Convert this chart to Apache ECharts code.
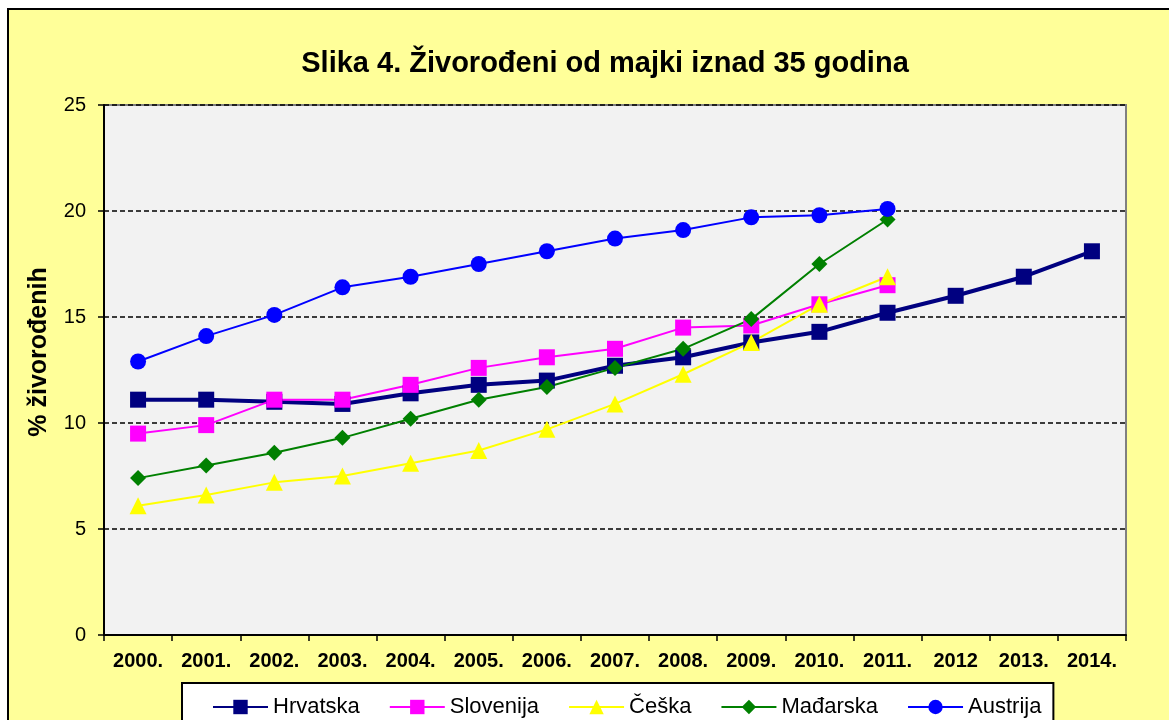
<!DOCTYPE html>
<html>
<head>
<meta charset="utf-8">
<script src="https://cdn.jsdelivr.net/npm/echarts@6/dist/echarts.min.js"></script>
<style>html,body{margin:0;padding:0;background:#fff;}#c{width:1169px;height:720px;}</style>
</head>
<body>
<div id="c"></div>
<script>
const years = ['2000.','2001.','2002.','2003.','2004.','2005.','2006.','2007.','2008.','2009.','2010.','2011.','2012','2013.','2014.'];
const hrvatska  = [11.1, 11.1, 11.0, 10.9, 11.4, 11.8, 12.0, 12.7, 13.1, 13.8, 14.3, 15.2, 16.0, 16.9, 18.1];
const slovenija = [9.5, 9.9, 11.1, 11.1, 11.8, 12.6, 13.1, 13.5, 14.5, 14.6, 15.6, 16.5];
const ceska     = [6.1, 6.6, 7.2, 7.5, 8.1, 8.7, 9.7, 10.9, 12.3, 13.8, 15.6, 16.9];
const madjarska = [7.4, 8.0, 8.6, 9.3, 10.2, 11.1, 11.7, 12.6, 13.5, 14.9, 17.5, 19.6];
const austrija  = [12.9, 14.1, 15.1, 16.4, 16.9, 17.5, 18.1, 18.7, 19.1, 19.7, 19.8, 20.1];
const yTicks = [0, 5, 10, 15, 20, 25];

const chart = echarts.init(document.getElementById('c'), null, {renderer: 'canvas'});
const F = 'Liberation Sans, Arial, sans-serif';
function mk(name, data, color, width, symbol, size) {
  return {
    name: name, type: 'line', data: data,
    symbol: symbol, symbolSize: size, showSymbol: true,
    lineStyle: {color: color, width: width},
    itemStyle: {color: color},
    emphasis: {disabled: true},
    animation: false
  };
}
chart.setOption({
  backgroundColor: '#ffffff',
  animation: false,
  textStyle: {fontFamily: F},
  graphic: [{
    type: 'rect', z: -100, silent: true,
    shape: {x: 8, y: 9, width: 1220, height: 800},
    style: {fill: '#FFFF99', stroke: '#000000', lineWidth: 2}
  }],
  title: {
    text: 'Slika 4. Živorođeni od majki iznad 35 godina',
    left: 600, top: 44, textAlign: 'center',
    textStyle: {fontFamily: F, fontSize: 29, fontWeight: 'bold', color: '#000'}
  },
  grid: {
    left: 104, right: 43, top: 105, bottom: 85,
    show: true, backgroundColor: '#F2F2F2', borderColor: '#808080', borderWidth: 2
  },
  legend: {
    left: 182, top: 683,
    padding: [13, 12, 30, 30],
    backgroundColor: '#ffffff', borderColor: '#000000', borderWidth: 2,
    itemWidth: 55, itemHeight: 18, itemGap: 29,
    textStyle: {fontFamily: F, fontSize: 22, color: '#000'},
    data: ['Hrvatska','Slovenija','Češka','Mađarska','Austrija']
  },
  xAxis: {
    type: 'category', data: years, boundaryGap: true,
    axisLine: {lineStyle: {color: '#000', width: 2}},
    axisTick: {show: true, length: 6, lineStyle: {color: '#000', width: 1.5}},
    axisLabel: {fontFamily: F, fontSize: 20, fontWeight: 'bold', color: '#000', margin: 16, interval: 0},
    splitLine: {show: false}
  },
  yAxis: {
    type: 'value', min: yTicks[0], max: yTicks[yTicks.length-1], interval: 5,
    name: '% živorođenih', nameLocation: 'middle', nameGap: 52, nameRotate: 90,
    nameTextStyle: {fontFamily: F, fontSize: 25, fontWeight: 'bold', color: '#000', padding: [0, 0, 0, 36]},
    axisLine: {show: true, lineStyle: {color: '#000', width: 2}},
    axisTick: {show: true, length: 6, lineStyle: {color: '#000', width: 1.5}},
    axisLabel: {fontFamily: F, fontSize: 20, color: '#000', margin: 18},
    splitLine: {show: true, lineStyle: {color: '#000', width: 1.5, type: [5, 3]}}
  },
  series: [
    mk('Hrvatska', hrvatska, '#000080', 4, 'rect', 16),
    mk('Slovenija', slovenija, '#FF00FF', 2, 'rect', 16),
    mk('Češka', ceska, '#FFFF00', 2, 'triangle', 17),
    mk('Mađarska', madjarska, '#008000', 2, 'diamond', 16),
    mk('Austrija', austrija, '#0000FF', 2, 'circle', 16)
  ]
});
</script>
</body>
</html>
